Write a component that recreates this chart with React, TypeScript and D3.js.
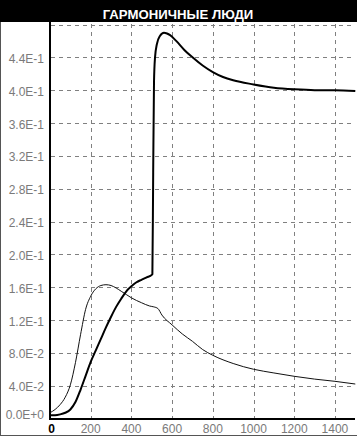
import React from "react";
import * as d3 from "d3";

const TITLE = "ГАРМОНИЧНЫЕ ЛЮДИ";

// Thick series (x, value)
const thickX = [0, 25, 50, 75, 100, 125, 150, 175, 200, 225, 250, 275, 300, 325, 350, 375, 400, 425, 450, 475, 500, 503, 507, 511, 516, 525, 540, 560, 575, 590, 620, 660, 700, 750, 800, 850, 900, 1000, 1100, 1200, 1300, 1400, 1500];
const thickY = [0.004, 0.004, 0.005, 0.007, 0.011, 0.02, 0.035, 0.052, 0.069, 0.083, 0.097, 0.111, 0.124, 0.136, 0.146, 0.155, 0.161, 0.166, 0.169, 0.172, 0.175, 0.176, 0.3, 0.41, 0.44, 0.456, 0.466, 0.47, 0.469, 0.467, 0.46, 0.449, 0.44, 0.43, 0.422, 0.416, 0.412, 0.407, 0.403, 0.401, 0.4, 0.4, 0.399];

// Thin series (x, value)
const thinX = [0, 25, 50, 75, 100, 125, 150, 175, 200, 225, 250, 275, 300, 325, 350, 375, 400, 450, 490, 510, 530, 550, 600, 650, 700, 750, 800, 900, 1000, 1100, 1200, 1300, 1400, 1500];
const thinY = [0.007, 0.011, 0.017, 0.026, 0.041, 0.068, 0.102, 0.133, 0.149, 0.158, 0.162, 0.163, 0.162, 0.159, 0.155, 0.151, 0.147, 0.141, 0.137, 0.136, 0.134, 0.126, 0.114, 0.103, 0.094, 0.084, 0.077, 0.067, 0.06, 0.0555, 0.0514, 0.048, 0.0453, 0.042];

const xTicks = [0, 200, 400, 600, 800, 1000, 1200, 1400];
const yTicks = [0, 0.04, 0.08, 0.12, 0.16, 0.2, 0.24, 0.28, 0.32, 0.36, 0.4, 0.44];
const yTickLabels = ["0.0E+0", "4.0E-2", "8.0E-2", "1.2E-1", "1.6E-1", "2.0E-1", "2.4E-1", "2.8E-1", "3.2E-1", "3.6E-1", "4.0E-1", "4.4E-1"];
const yGrid = [0.04, 0.08, 0.12, 0.16, 0.2, 0.24, 0.28, 0.32, 0.36, 0.4, 0.44, 0.48];
const xGrid = [200, 400, 600, 800, 1000, 1200, 1400];

export default function App() {
  const W = 357, H = 437;
  const x = d3.scaleLinear().domain([0, 1500]).range([50, 355.3]);
  const y = d3.scaleLinear().domain([0, 0.48]).range([418.5, 24.5]);
  const line = d3
    .line<[number, number]>()
    .x((d) => x(d[0]))
    .y((d) => y(d[1]))
    .curve(d3.curveMonotoneX);
  const thick = thickX.map((v, i) => [v, thickY[i]] as [number, number]);
  const thin = thinX.map((v, i) => [v, thinY[i]] as [number, number]);
  const font = "'Liberation Sans', Arial, sans-serif";
  return (
    <svg width={W} height={H} style={{ position: "absolute", left: 0, top: 0, background: "#fff" }}>
      <rect x={0} y={0} width={W} height={H} fill="#fff" />
      <rect x={0} y={0} width={W} height={22} fill="#000" />
      <text x={178} y={19} fill="#fff" fontFamily={font} fontWeight="bold" fontSize={13.2} textAnchor="middle">
        {TITLE}
      </text>
      <line x1={0.5} y1={22} x2={0.5} y2={436} stroke="#555" />
      <line x1={0} y1={435.5} x2={W} y2={435.5} stroke="#555" />
      {yGrid.map((v) => (
        <line key={"hy" + v} x1={51} x2={355} y1={Math.round(y(v)) + 0.5} y2={Math.round(y(v)) + 0.5} stroke="#808080" strokeDasharray="4,4" />
      ))}
      {xGrid.map((v) => (
        <line key={"vx" + v} x1={Math.round(x(v)) + 0.5} x2={Math.round(x(v)) + 0.5} y1={24} y2={418} stroke="#808080" strokeDasharray="4,4" />
      ))}
      <line x1={50} y1={22} x2={50} y2={420} stroke="#000" strokeWidth={2} />
      <line x1={49} y1={419} x2={355} y2={419} stroke="#000" strokeWidth={2} />
      {yTicks.map((v, i) => (
        <text key={"yl" + v} x={44} y={v === 0 ? 419 : y(v) + 5.5} textAnchor="end" fontFamily={font} fontSize={12} fill="#7a7a7a">
          {yTickLabels[i]}
        </text>
      ))}
      {xTicks.map((v) => (
        <text key={"xl" + v} x={v === 0 ? 51.5 : x(v)} y={433} textAnchor="middle" fontFamily={font} fontSize={12} fill={v === 0 ? "#000" : "#7a7a7a"} fontWeight={v === 0 ? "bold" : "normal"}>
          {v}
        </text>
      ))}
      <path d={line(thin) || ""} fill="none" stroke="#111" strokeWidth={1} />
      <path d={line(thick) || ""} fill="none" stroke="#000" strokeWidth={2} />
    </svg>
  );
}
